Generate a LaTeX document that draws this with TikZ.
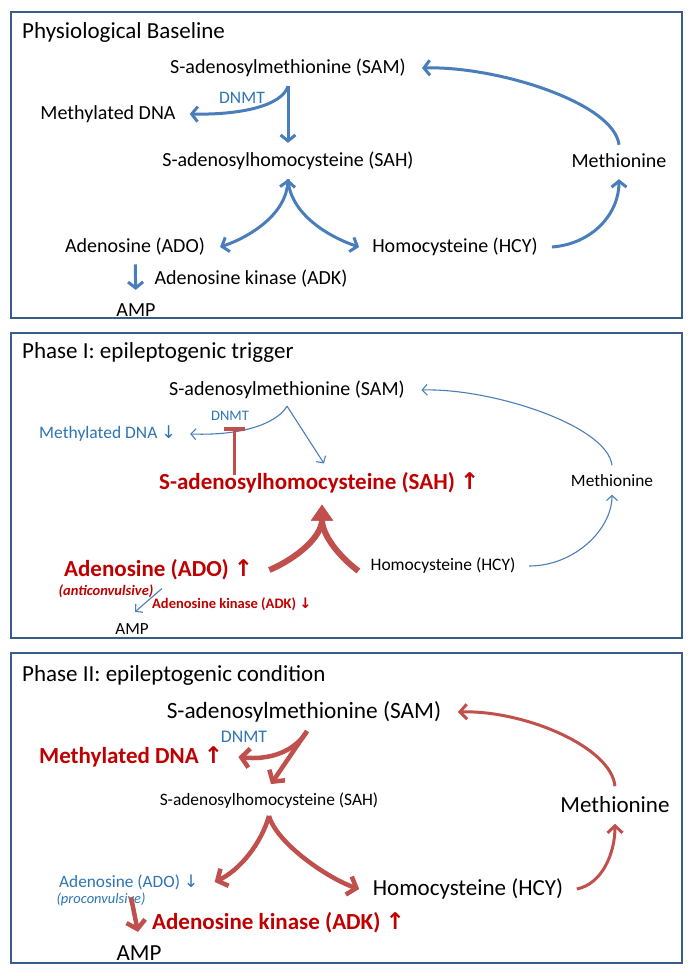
\documentclass[tikz,border=0pt]{standalone}
\usepackage{fontspec}
\setmainfont{Carlito}
\newfontfamily\arrowfont{DejaVu Sans}
\usetikzlibrary{arrows.meta}

\definecolor{boxblue}{HTML}{385D8A}
\definecolor{arrblue}{HTML}{4A7EBB}
\definecolor{txtblue}{HTML}{2E75B6}
\definecolor{arrred}{HTML}{C0504D}
\definecolor{txtred}{HTML}{C00000}

\newcommand{\uparr}{{\arrowfont\char"2191}}
\newcommand{\dnarr}{{\arrowfont\char"2193}}

\tikzset{
  every node/.style={inner sep=0pt},
  fs/.style={font=\fontsize{#1}{#1}\selectfont},
  fsb/.style={font=\fontsize{#1}{#1}\selectfont\bfseries},
  fsi/.style={font=\fontsize{#1}{#1}\selectfont\itshape},
  fsbi/.style={font=\fontsize{#1}{#1}\selectfont\bfseries\itshape},
  panel/.style={draw=boxblue, line width=2.5pt},
  ttl/.style={anchor=west, fs=23},
  thickblue/.style={draw=arrblue, line width=3pt, >={Straight Barb[length=6pt,width=15pt]}, ->},
  thinblue/.style={draw=arrblue, line width=1.1pt, >={Straight Barb[length=5pt,width=11pt]}, ->},
  thickred/.style={draw=arrred, line width=4.5pt, >={Straight Barb[length=8pt,width=19pt]}, ->},
  medred/.style={draw=arrred, line width=3pt, >={Straight Barb[length=7pt,width=15pt]}, ->},
  bigred/.style={draw=arrred, line width=6pt, -{Triangle[length=16pt,width=21pt]}},
  inhib/.style={draw=arrred, line width=3pt, -{Bar[width=21pt,line width=4.5pt]}}
}

\begin{document}
\begin{tikzpicture}[x=1pt, y=1pt]
\fill[white] (0,0) rectangle (693,-976);
\useasboundingbox (0,0) rectangle (693,-976);

% frames
\foreach \t/\b in {12/318, 333/638, 653/963}
  \draw[panel] (11,-\t) rectangle (682,-\b);

% baseline
\node[ttl] (title1) at (22,-32) {Physiological Baseline};
\node[fs=20] (sam1) at (288,-68) {S-adenosylmethionine (SAM)};
\node[fs=17.5, text=txtblue] (dnmt1) at (242,-98) {DNMT};
\node[fs=20] (mdna1) at (108,-114) {Methylated DNA};
\node[fs=20] (sah1) at (288,-161) {S-adenosylhomocysteine (SAH)};
\node[fs=20] (meth1) at (619,-161) {Methionine};
\node[fs=20] (ado1) at (135,-247) {Adenosine (ADO)};
\node[fs=20] (hcy1) at (455,-247) {Homocysteine (HCY)};
\node[fs=20] (adk1) at (251,-279) {Adenosine kinase (ADK)};
\node[fs=20] (amp1) at (136,-310) {AMP};

\coordinate (b1) at ([yshift=-9pt]sam1.south);
\coordinate (top1) at ([yshift=-9pt]sah1.south);
\draw[thickblue] (b1) -- ([yshift=9pt]sah1.north);
\draw[thickblue] (b1) .. controls +(-6,-20) and +(50,-1) .. ([xshift=14pt]mdna1.east);
\draw[thickblue] ([yshift=9pt]meth1.north) .. controls +(-5,42) and +(75,2) .. ([xshift=16pt]sam1.east);
\draw[thickblue, <->] (top1) .. controls +(-2,-35) and +(30,10) .. ([xshift=15pt]ado1.east);
\draw[thickblue] (top1) .. controls +(2,-35) and +(-30,10) .. ([xshift=-13pt]hcy1.west);
\draw[thickblue] ([xshift=14pt]hcy1.east) .. controls +(40,3) and +(0,-35) .. ([yshift=-11pt]meth1.south);
\draw[thickblue, shorten <=8.5pt, shorten >=13.5pt] (ado1) -- (amp1);

% phase I
\node[ttl] (title2) at (22,-352) {Phase I: epileptogenic trigger};
\node[fs=20] (sam2) at (287,-390) {S-adenosylmethionine (SAM)};
\node[fs=14.5, text=txtblue] (dnmt2) at (230,-416) {DNMT};
\node[fs=17.5, text=txtblue, anchor=west] (mdna2) at (39,-434) {Methylated DNA \dnarr};
\node[fsb=23, text=txtred, anchor=west] (sah2) at (159,-483) {S-adenosylhomocysteine (SAH) \uparr};
\node[fs=17.3] (meth2) at (612,-481) {Methionine};
\node[fsb=23, text=txtred, anchor=west] (ado2) at (64,-570) {Adenosine (ADO) \uparr};
\node[fsbi=14.5, text=txtred] (anti2) at (106,-591) {(anticonvulsive)};
\node[fs=17.5] (hcy2) at (443,-566) {Homocysteine (HCY)};
\node[fsb=14.5, text=txtred, anchor=west] (adk2) at (152,-604) {Adenosine kinase (ADK) \dnarr};
\node[fs=17] (amp2) at (132,-629) {AMP};

\coordinate (b2) at ([yshift=-7pt]sam2.south);
\coordinate (top2) at ([xshift=163pt,yshift=-11pt]sah2.south west);
\draw[thinblue] (b2) -- ([xshift=165pt,yshift=9pt]sah2.north west);
\draw[thinblue] (b2) .. controls +(-8,-14) and +(60,-2) .. ([xshift=14pt]mdna2.east);
\draw[inhib] ([xshift=75pt,yshift=-3pt]sah2.north west) -- ([xshift=4pt,yshift=-6pt]dnmt2.south);
\draw[thinblue] ([yshift=9.5pt]meth2.north) .. controls +(-5,40) and +(70,2) .. ([xshift=16.5pt]sam2.east);
\draw[bigred] ([xshift=16pt]ado2.east) .. controls +(28,12) and +(0,-32) .. (top2);
\draw[bigred] ([xshift=-12pt,yshift=-5pt]hcy2.west) .. controls +(-20,15) and +(0,-30) .. (top2);
\draw[thinblue] ([xshift=13.5pt]hcy2.east) .. controls +(45,0) and +(0,-35) .. ([yshift=-7.5pt]meth2.south);
\draw[thinblue] ([xshift=98pt,yshift=-8pt]ado2.south west) -- ([xshift=3pt,yshift=11.5pt]amp2.north);

% phase II
\node[ttl] (title3) at (22,-675) {Phase II: epileptogenic condition};
\node[fs=23.3] (sam3) at (304,-712) {S-adenosylmethionine (SAM)};
\node[fs=17.7, text=txtblue] (dnmt3) at (244,-737) {DNMT};
\node[fsb=23, text=txtred, anchor=west] (mdna3) at (39,-757) {Methylated DNA \uparr};
\node[fs=17.4] (sah3) at (269,-801) {S-adenosylhomocysteine (SAH)};
\node[fs=23] (meth3) at (615,-805) {Methionine};
\node[fs=17.3, text=txtblue, anchor=west] (ado3) at (59,-882) {Adenosine (ADO) \dnarr};
\node[fsi=14.5, text=txtblue] (pro3) at (101,-899) {(proconvulsive)};
\node[fs=23] (hcy3) at (468,-889) {Homocysteine (HCY)};
\node[fsb=23, text=txtred, anchor=west] (adk3) at (152,-923) {Adenosine kinase (ADK) \uparr};
\node[fs=23] (amp3) at (139,-953) {AMP};

\coordinate (b3) at ([xshift=3pt,yshift=-8.5pt]sam3.south);
\coordinate (top3) at ([yshift=-7pt]sah3.south);
\draw[thickred] (b3) .. controls +(-8,-14) and +(40,-4) .. ([xshift=15pt]mdna3.east);
\draw[thickred] (b3) -- ([xshift=2pt,yshift=9pt]sah3.north);
\draw[medred] ([yshift=10.5pt]meth3.north) .. controls +(-4,40) and +(65,2) .. ([xshift=16.5pt]sam3.east);
\draw[thickred] (top3) .. controls +(-8,-28) and +(25,12) .. ([xshift=16pt]ado3.east);
\draw[thickred] (top3) .. controls +(8,-28) and +(-30,10) .. ([xshift=-13.5pt]hcy3.west);
\draw[medred] ([xshift=13.5pt]hcy3.east) .. controls +(25,5) and +(0,-30) .. ([yshift=-10.5pt]meth3.south);
\draw[thickred] ([xshift=72pt,yshift=-7.5pt]ado3.south west) -- ([xshift=-1pt,yshift=13.5pt]amp3.north);

\end{tikzpicture}
\end{document}
